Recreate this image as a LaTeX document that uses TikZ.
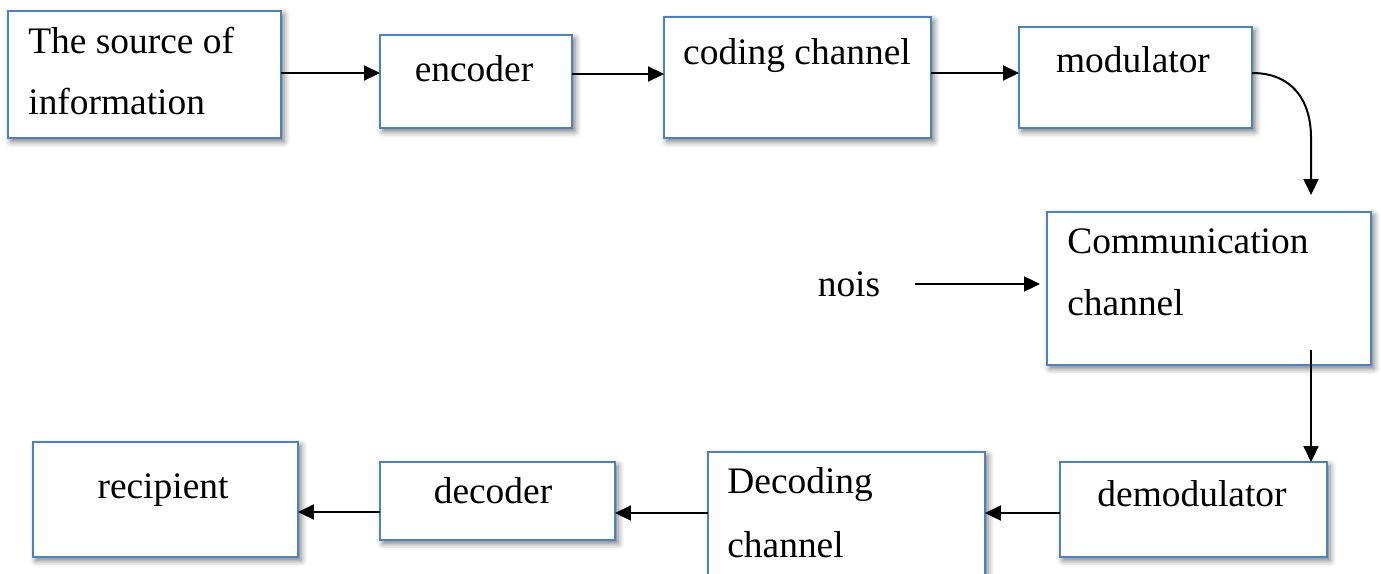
\documentclass[tikz,border=0pt]{standalone}
\usepackage{fontspec}
\setmainfont{Liberation Serif}
\usepackage{xcolor}
\usepackage{tikz}
\usetikzlibrary{arrows.meta,shadows.blur}

\definecolor{boxblue}{RGB}{79,129,189}

\tikzset{
  box/.style={draw=boxblue, line width=0.045cm, fill=white, inner sep=0pt, outer sep=0pt,
    blur shadow={shadow xshift=0.06cm, shadow yshift=-0.07cm, shadow blur radius=0.12cm, shadow opacity=55}},
  lbl/.style={inner sep=0pt, font=\fontsize{21.3}{25}\selectfont},
  arr/.style={line width=0.04cm, -{Triangle[length=0.32cm,width=0.30cm]}}
}

\begin{document}
\begin{tikzpicture}[x=0.02cm, y=-0.02cm]
        \useasboundingbox (0,0) rectangle (1381,574);

        % Boxes
        \node[box, minimum width=5.46cm, minimum height=2.54cm] (src) at (144.5,74.5) {};
        \node[box, minimum width=3.84cm, minimum height=1.86cm] (enc) at (476,81.5) {};
        \node[box, minimum width=5.34cm, minimum height=2.42cm] (cod) at (797.5,77.5) {};
        \node[box, minimum width=4.66cm, minimum height=2.02cm] (mod) at (1135.5,77.5) {};
        \node[box, minimum width=6.48cm, minimum height=3.06cm] (com) at (1209,288.5) {};
        \node[box, minimum width=5.34cm, minimum height=1.90cm] (dem) at (1193.5,509.5) {};
        \node[box, minimum width=5.54cm, minimum height=2.96cm] (decch) at (846.5,526) {};
        \node[box, minimum width=4.70cm, minimum height=1.56cm] (dec) at (497.5,501) {};
        \node[box, minimum width=5.30cm, minimum height=2.30cm] (rec) at (165.5,499.5) {};

        % Texts
        \node[lbl, anchor=base west] (src1) at (28,54) {The source of};
        \node[lbl, anchor=base west] (src2) at (28,115) {information};
        \node[lbl, anchor=base] (enctxt) at (474,82) {encoder};
        \node[lbl, anchor=base] (codtxt) at (797,65) {coding channel};
        \node[lbl, anchor=base] (modtxt) at (1133,73) {modulator};
        \node[lbl, anchor=base west] (com1) at (1067,253) {Communication};
        \node[lbl, anchor=base west] (com2) at (1067,315) {channel};
        \node[lbl, anchor=base] (noisetxt) at (849,296) {nois};
        \node[lbl, anchor=base] (demtxt) at (1192,506) {demodulator};
        \node[lbl, anchor=base west] (decch1) at (727,493) {Decoding};
        \node[lbl, anchor=base west] (decch2) at (727,557) {channel};
        \node[lbl, anchor=base] (dectxt) at (493,503) {decoder};
        \node[lbl, anchor=base] (rectxt) at (163,498) {recipient};

        % Free ends
        \coordinate (dropend) at (1311,195);
        \coordinate (noisefrom) at (915,284);
        \coordinate (comout) at (1311,350);

        % Arrows
        \draw[arr] (src.east |- 0,73) -- (enc.west |- 0,73);
        \draw[arr] (enc.east |- 0,74) -- (cod.west |- 0,74);
        \draw[arr] (cod.east |- 0,73) -- (mod.west |- 0,73);
        \draw[arr] (mod.east |- 0,73) .. controls (1292,73) and (1311,100) .. (1311,138) -- (dropend);
        \draw[arr, shorten >=0.14cm] (noisefrom) -- (com.west |- noisefrom);
        \draw[arr] (comout) -- (dem.north -| comout);
        \draw[arr] (dem.west |- 0,513) -- (decch.east |- 0,513);
        \draw[arr] (decch.west |- 0,513) -- (dec.east |- 0,513);
        \draw[arr] (dec.west |- 0,512) -- (rec.east |- 0,512);
    \end{tikzpicture}
\end{document}
